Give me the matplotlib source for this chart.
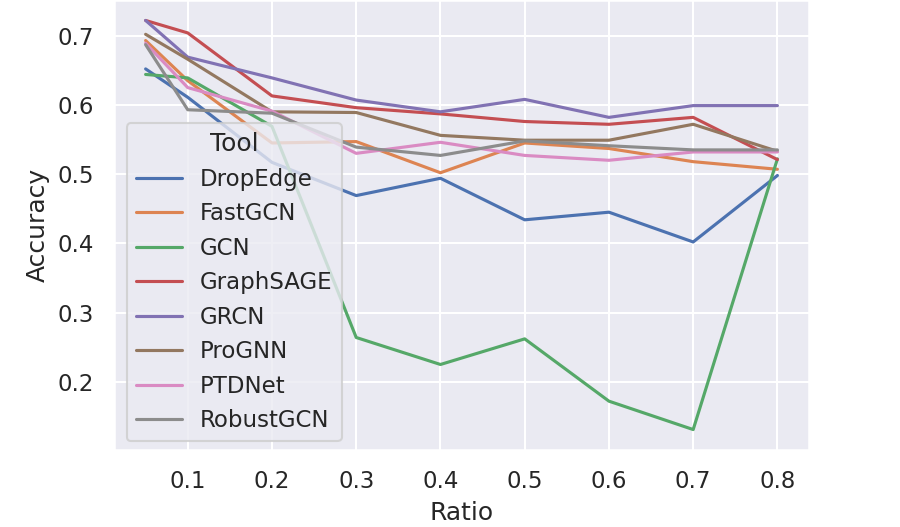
import matplotlib
matplotlib.use('Agg')
import matplotlib.pyplot as plt
import seaborn as sns

ratios = [0.05, 0.1, 0.2, 0.3, 0.4, 0.5, 0.6, 0.7, 0.8]

tools = ['DropEdge', 'FastGCN', 'GCN', 'GraphSAGE', 'GRCN', 'ProGNN', 'PTDNet', 'RobustGCN']

dropedge = [0.652, 0.611, 0.517, 0.469, 0.494, 0.434, 0.445, 0.402, 0.498]
fastgcn = [0.693, 0.635, 0.545, 0.547, 0.502, 0.545, 0.537, 0.518, 0.507]
gcn = [0.644, 0.639, 0.569, 0.264, 0.225, 0.262, 0.172, 0.131, 0.522]
graphsage = [0.722, 0.704, 0.613, 0.596, 0.587, 0.576, 0.572, 0.582, 0.521]
grcn = [0.722, 0.669, 0.639, 0.607, 0.590, 0.608, 0.582, 0.599, 0.599]
prognn = [0.702, 0.666, 0.590, 0.589, 0.556, 0.549, 0.549, 0.572, 0.533]
ptdnet = [0.689, 0.625, 0.591, 0.530, 0.546, 0.527, 0.520, 0.532, 0.532]
robustgcn = [0.687, 0.593, 0.588, 0.539, 0.527, 0.548, 0.541, 0.535, 0.535]

values = [dropedge, fastgcn, gcn, graphsage, grcn, prognn, ptdnet, robustgcn]

sns.set_theme(style='darkgrid')
fig = plt.figure(figsize=(6, 527 / 150), dpi=150)
# axes placed to match the reference crop (top edge touches the image)
ax = fig.add_axes([0.1267, 0.1461, 0.7722, 0.8539])

colors = sns.color_palette()
for i, (name, v) in enumerate(zip(tools, values)):
    ax.plot(ratios, v, color=colors[i], label=name, linewidth=1.5)

ax.set_xticks([0.1, 0.2, 0.3, 0.4, 0.5, 0.6, 0.7, 0.8])
ax.set_xlabel('Ratio')
ax.set_ylabel('Accuracy')
ax.legend(title='Tool', loc='lower left', bbox_to_anchor=(0.002, -0.006))

fig.savefig('out.png', dpi=150)
